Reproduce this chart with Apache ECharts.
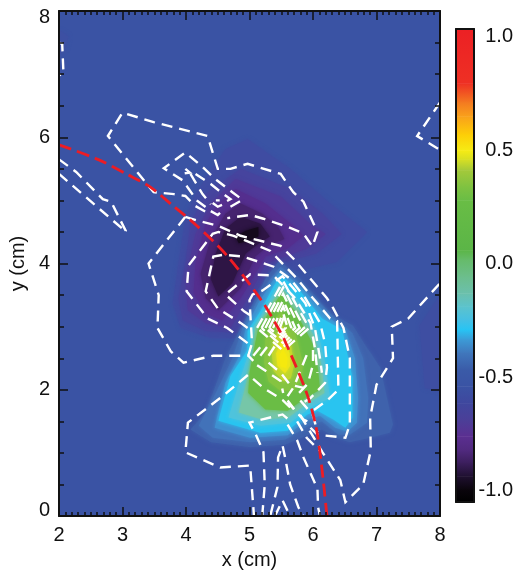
<!DOCTYPE html>
<html><head><meta charset="utf-8">
<style>html,body{margin:0;padding:0;background:#fff}#c{width:516px;height:575px}</style>
<script src="https://cdn.jsdelivr.net/npm/echarts@6/dist/echarts.min.js"></script>
</head><body><div id="c"></div>
<script>
// --- filled contour regions, vertices in cm ---
const field=[[2,0],[2,8],[8,8],[8,0]];
const edgeTopLeft=[[2,7.7],[2.15,7.6],[2.1,7.4],[2,7.3]];
const edgeRight=[[8,3.5],[7.68,3.02],[7.76,2.03],[8,1.98]];
const neg1=[[4.97,5.97],[5.64,5.5],[6.27,4.95],[6.85,4.5],[6.38,4.03],[5.8,3.89],[5.41,3.92],[5.17,3.45],[4.94,2.82],[4.39,2.82],[3.92,2.98],[3.79,3.37],[3.88,4],[3.99,4.71],[4.15,5.1],[4.62,5.81]];
const neg2=[[4.86,5.5],[5.64,5.18],[6.15,4.79],[6.45,4.47],[6.05,4.16],[5.64,4.05],[5.36,3.98],[5.09,3.53],[4.86,2.9],[4.31,2.93],[3.95,3.1],[3.88,3.45],[3.99,4],[4.07,4.63],[4.31,5.1]];
const neg3=[[4.78,5.34],[5.49,5.06],[5.95,4.63],[6.2,4.47],[5.9,4.24],[5.56,4.11],[5.25,4],[5.01,3.53],[4.7,2.98],[4.31,3.06],[4.03,3.26],[3.99,3.76],[4.15,4.47],[4.39,4.95]];
const neg4=[[4.78,5.18],[5.25,4.95],[5.65,4.63],[5.85,4.44],[5.6,4.24],[5.25,4.11],[5.09,3.84],[4.86,3.45],[4.57,3.1],[4.31,3.21],[4.12,3.53],[4.15,4],[4.31,4.63],[4.51,4.95]];
const neg5=[[4.86,4.95],[5.2,4.79],[5.45,4.58],[5.55,4.39],[5.3,4.28],[5.09,4.11],[4.86,3.61],[4.51,3.26],[4.31,3.45],[4.23,3.84],[4.39,4.39],[4.62,4.79]];
const neg6=[[4.86,4.74],[5.17,4.63],[5.32,4.43],[5.15,4.32],[4.94,4.16],[4.73,3.69],[4.51,3.48],[4.39,3.76],[4.47,4.16],[4.62,4.55]];
const neg7=[[4.94,4.52],[5.14,4.58],[5.14,4.43],[4.98,4.36],[4.83,4.32],[4.78,4.43]];
const pos1=[[5.47,4.05],[5.8,3.76],[6.27,3.21],[6.63,3.02],[6.82,2.71],[6.93,2.55],[7.06,2.35],[7.26,1.45],[7.21,1.32],[6.9,1.24],[6.58,1.17],[6.35,1.24],[6.14,1.37],[5.93,1.29],[5.56,1.13],[5.01,1.09],[4.39,1.17],[4.07,1.37],[4.31,1.64],[4.62,2.5],[4.94,3.13],[5.25,3.76]];
const pos2=[[5.49,3.95],[5.88,3.61],[6.35,3.13],[6.62,2.9],[6.79,2.5],[6.87,1.87],[6.85,1.48],[6.58,1.29],[6.4,1.29],[6.14,1.5],[5.93,1.43],[5.56,1.21],[5.01,1.17],[4.42,1.24],[4.2,1.43],[4.43,1.87],[4.73,2.5],[4.89,2.98],[5.14,3.45],[5.33,3.76]];
const pos3=[[5.49,3.89],[5.83,3.61],[6.27,3.13],[6.51,2.95],[6.66,2.5],[6.71,1.87],[6.69,1.48],[6.54,1.34],[6.35,1.4],[6.11,1.59],[5.91,1.53],[5.6,1.28],[5.01,1.24],[4.45,1.4],[4.62,2.11],[4.86,2.58],[4.94,2.98],[5.14,3.37],[5.36,3.72]];
const pos4=[[5.49,3.81],[5.8,3.56],[6.14,3.13],[6.46,2.95],[6.62,2.19],[6.62,1.56],[6.51,1.4],[6.32,1.53],[6.07,1.67],[5.91,1.61],[5.6,1.35],[5.17,1.32],[4.51,1.51],[4.7,2.22],[4.97,2.63],[4.97,2.93],[5.17,3.24],[5.38,3.64]];
const pos5=[[5.49,3.72],[5.8,3.37],[6.08,2.9],[6.19,2.43],[6.27,1.87],[5.96,1.72],[5.64,1.48],[5.17,1.43],[4.67,1.56],[4.86,2.19],[5.01,2.66],[5.05,2.98],[5.2,3.21],[5.39,3.56]];
const pos6=[[5.49,3.64],[5.77,3.29],[6.03,2.82],[6.14,2.35],[6.18,1.95],[5.93,1.8],[5.61,1.56],[5.2,1.53],[4.83,1.64],[4.95,2.11],[5.05,2.58],[5.09,2.98],[5.25,3.21],[5.41,3.48]];
const pos7=[[5.5,3.53],[5.74,3.21],[5.99,2.74],[6.08,2.32],[6.11,2],[5.88,1.87],[5.6,1.67],[5.25,1.69],[4.98,1.95],[5,2.27],[5.09,2.74],[5.14,2.98],[5.3,3.21]];
const pos8=[[5.5,3.25],[5.72,2.9],[5.84,2.43],[5.82,2.15],[5.7,2],[5.49,1.98],[5.3,2.13],[5.23,2.43],[5.25,2.82],[5.35,3.04]];
const pos9=[[5.52,3.02],[5.65,2.74],[5.7,2.38],[5.65,2.18],[5.53,2.14],[5.38,2.3],[5.35,2.58],[5.38,2.8]];
const pos10=[[5.53,2.82],[5.63,2.58],[5.64,2.38],[5.56,2.26],[5.44,2.38],[5.42,2.58]];
const pos11=[[5.53,2.66],[5.6,2.5],[5.58,2.34],[5.49,2.37],[5.47,2.54]];
const fillRegions=[field,edgeTopLeft,edgeRight,neg1,neg2,neg3,neg4,neg5,neg6,neg7,pos1,pos2,pos3,pos4,pos5,pos6,pos7,pos8,pos9,pos10,pos11];
const fillColors=['#3A53A4','#3D50A3','#3E4EA2','#3F4CA2','#46449E','#4F3A98','#542E8E','#46236F','#2E1545','#150A1C','#3F62AC','#4272B9','#4090D0','#29C4F0','#4FC3DC','#76C6A8','#6ABD45','#85C441','#BDD52F','#EAE41C','#F5E90E'];

// --- colour bar ---
const barEdges=[1.035,0.796,0.71,0.65,0.57,0.5,0.46,0.413,0.34,0.28,0.06,0.018,-0.056,-0.13,-0.188,-0.247,-0.29,-0.335,-0.393,-0.467,-0.54,-0.614,-0.687,-0.76,-0.82,-0.878,-0.936,-0.995,-1.05];
const barColors=['#EC2024','#EE3024','#F47B20','#F9A11B','#FDCE07','#F6EB14','#D7DF23','#A4C93A','#7FC241','#69BD45','#5BB547','#66BB6A','#6CBE8C','#6BC0AC','#5CC3CC','#45BFE4','#27C4F4','#3C9AD6','#4077BC','#3A5BA8','#3A53A4','#3F479E','#4B3F98','#5B2F91','#512A7F','#3B1E5C','#1F1030','#0A050C','#000000'];
const barTicks=[-1,-0.5,0,0.5,1];

// --- white dashed contour lines, vertices in cm ---
const cA=[[2,7.5],[2.05,7.48],[2.07,7.01],[2,6.98]];
const cL1=[[2,5.65],[2.27,5.45],[2.69,5.02],[2.82,4.98],[3.05,4.52],[3,4.43]];
const cL2=[[2,5.42],[3,4.55],[3.05,4.52]];
const cB=[[4.07,4.99],[3.99,5.07],[3.81,5.1],[3.49,5.13],[2.77,6.02],[3,6.39],[3.49,6.24],[4.34,6.02],[4.5,5.5],[4.7,5.5],[4.97,5.58],[5.49,5.42],[5.69,5.13],[5.85,4.98],[6.07,4.5],[5.99,4.27],[5.88,4.43],[5.8,4.5],[5.6,4.58],[5.22,4.71],[5.01,4.77],[4.65,4.72]];
const cD=[[4.7,4.9],[4.89,5.01],[4.73,5.13],[4.46,5.34],[4.26,5.53],[3.99,5.76],[3.65,5.51],[3.96,5.31],[4.03,5.2],[4.17,5],[4.34,4.87]];
const cD2=[[3.99,5.5],[4.06,5.44],[3.97,5.43],[3.99,5.5]];
const cD3=[[4.15,5.42],[4.39,5.26],[4.55,5.13],[4.7,5.02],[4.55,4.94]];
const cD4=[[4.07,5.42],[4.26,5.1],[4.39,4.94]];
const cD5=[[4.15,4.91],[4.31,4.82]];
const cSpot=[[4.47,5],[4.5,5.03],[4.53,5],[4.5,4.97],[4.47,5]];
const cChev1=[[4.42,4.96],[4.5,4.9],[4.59,4.94]];
const cChev2=[[4.39,4.83],[4.5,4.77],[4.61,4.87]];
const cE=[[3.99,4.74],[3.41,4],[3.57,3.5],[3.55,2.98],[3.76,2.61],[3.96,2.43],[4.43,2.54],[4.98,2.54],[5.06,2.46]];
const cF=[[3.99,4.74],[4.18,4.68],[4.5,4.6],[4.86,4.44],[5.49,4.28],[5.69,4.08],[5.96,3.76],[6.22,3.45],[6.32,3.29],[6.48,2.98],[6.58,2.5],[6.58,1.45],[6.51,1.24],[6.07,1.29],[5.96,1.4],[5.75,1.64],[5.6,1.8]];
const cG=[[4.97,2.74],[4.65,2.98],[4.34,3.13],[4.01,3.56],[4.04,3.97],[4.42,4.47],[4.51,4.5],[4.75,4.44],[4.97,4.35],[5.33,4.2],[5.49,4.03],[5.75,3.76],[6,3.45],[6.27,3.13],[6.38,3.09],[6.4,2],[6.22,1.83],[6,1.67]];
const cH=[[4.97,2.98],[4.86,3.06],[4.5,3.29],[4.31,3.56],[4.43,4.11],[4.59,4.14],[4.9,4.11],[5.38,3.95],[5.64,3.76],[5.88,3.45],[6.11,3.06],[6.19,2.74],[6.22,2.35],[6.19,2.11],[5.96,1.87],[5.85,1.8]];
const cI=[[5.01,3.18],[4.92,3.24],[4.62,3.51],[5.01,3.83],[5.38,3.81],[5.72,3.45],[5.96,3.06],[6.03,2.66],[6.07,2.27]];
const cJ=[[4.98,2.54],[5.04,2.74],[5,3.42],[5.05,3.51],[5.2,3.57],[5.52,3.8],[5.69,3.61],[5.88,3.37],[6.03,2.98],[6.11,2.5],[6.14,2.27]];
const cK=[[5.64,1.72],[5.52,1.84],[5.22,2.03],[4.98,2.24],[4.59,1.91],[4.03,1.48],[3.99,1.01],[4.54,0.77],[5.01,0.8],[5.06,0.14],[5.07,0]];
const cM=[[5.2,0],[5.24,0.5],[5.22,1.01],[5.17,1.13],[5.09,1.31],[5,1.48],[5.52,1.61],[5.65,1.5]];
const cN=[[5.33,0.02],[5.44,0.46],[5.45,0.93],[5.52,1.12],[5.56,0.93],[5.64,0.5],[5.77,0.14],[5.85,0]];
const cO=[[5.4,0],[5.52,0.25],[5.64,0]];
const cP=[[5.6,1.45],[5.75,1.2],[5.85,0.93],[6.07,0.43],[6.08,0.14],[6.11,0]];
const cQ=[[5.8,1.6],[6.15,1.01],[6.43,0.57],[6.51,0.22],[6.79,0.5],[6.91,1.04],[6.9,1.56],[7,2.08],[7.26,2.5],[7.24,3],[7.5,3.13],[8,3.69]];
const cR=[[5.75,1.5],[5.9,1.24],[6.1,1.04]];
const cTop=[[8,6.55],[7.64,6.02],[8,5.8]];
const ring1=[[5.12,2.98],[5.53,3.72],[5.94,2.98],[5.53,2.62],[5.12,2.98]];
const ring2=[[5.19,2.98],[5.53,3.62],[5.86,2.98],[5.53,2.68],[5.19,2.98]];
const ring3=[[5.25,2.98],[5.53,3.52],[5.79,2.98],[5.53,2.74],[5.25,2.98]];
const ring4=[[5.31,2.98],[5.53,3.42],[5.72,2.98],[5.53,2.8],[5.31,2.98]];
const ring5=[[5.37,2.98],[5.53,3.32],[5.66,2.98],[5.53,2.85],[5.37,2.98]];
const ring6=[[5.43,2.98],[5.53,3.22],[5.6,2.98],[5.53,2.9],[5.43,2.98]];
const ring7=[[5.48,2.98],[5.53,3.12],[5.57,2.98],[5.53,2.94],[5.48,2.98]];
const q1=[[5.12,2.39],[5.3,2.27],[5.49,2.14],[5.53,1.95]];
const q2=[[5.3,2.43],[5.49,2.27],[5.64,2.08],[5.85,2.03]];
const q3=[[5.06,2.54],[5.22,2.74]];
const q4=[[5.17,2.54],[5.3,2.71]];
const q5=[[5.3,2.54],[5.41,2.71]];
const s1=[[5.9,2.55],[5.8,2.3],[5.7,2.05],[5.6,1.9]];
const s2=[[6,2.63],[6,2.4],[5.92,2.1],[5.78,1.95]];
const t1=[[5.6,1.83],[5.72,1.67],[5.85,1.53],[5.96,1.48]];
const t2=[[5.8,1.83],[6,1.6],[6.07,1.33]];
const whiteLines=[cA,cL1,cL2,cB,cD,cD2,cD3,cD4,cD5,cSpot,cChev1,cChev2,cE,cF,cG,cH,cI,cJ,cK,cM,cN,cO,cP,cQ,cR,cTop,ring1,ring2,ring3,ring4,ring5,ring6,ring7,q1,q2,q3,q4,q5,s1,s2,t1,t2];

// --- red curve ---
const redCurve=[[2,5.88],[2.61,5.65],[3.08,5.41],[3.44,5.21],[3.8,4.91],[4.17,4.6],[4.65,4.12],[5.2,3.4],[5.45,2.98],[5.56,2.77],[5.91,1.92],[6.07,1.29],[6.22,0]];

const FONT='"Liberation Sans",Arial,sans-serif';
const INK='#111';
const chart=echarts.init(document.getElementById('c'),null,{renderer:'canvas'});
const lab={fontFamily:FONT,fontSize:20,color:'#111'};
function xAx(pos,gi,show){return {type:'value',gridIndex:gi,position:pos,min:2,max:8,interval:1,z:10,
  axisLine:{show:true,onZero:false,lineStyle:{color:INK,width:2}},
  axisTick:{show:true,inside:true,length:9,lineStyle:{color:INK,width:1.5}},
  minorTick:{show:true,splitNumber:10,length:4,lineStyle:{color:INK,width:1.5}},
  splitLine:{show:false},
  axisLabel:Object.assign({show:show,margin:9,formatter:v=>String(v)},lab),
  name:show?'x (cm)':'',nameLocation:'middle',nameGap:30,nameTextStyle:lab};}
function yAx(pos,gi,show){return {type:'value',gridIndex:gi,position:pos,min:0,max:8,interval:2,z:10,
  axisLine:{show:true,onZero:false,lineStyle:{color:INK,width:2}},
  axisTick:{show:true,inside:true,length:9,lineStyle:{color:INK,width:1.5}},
  minorTick:{show:true,splitNumber:4,length:5,lineStyle:{color:INK,width:1.5}},
  splitLine:{show:false},
  axisLabel:Object.assign({show:show,margin:9,lineHeight:12,formatter:v=>String(v),verticalAlignMinLabel:'bottom',verticalAlignMaxLabel:'top'},lab),
  name:show?'y (cm)':'',nameLocation:'middle',nameGap:31,nameTextStyle:lab};}
function barBox(pos){return {type:'value',gridIndex:1,position:pos,min:0,max:1,z:10,
  axisLine:{show:true,onZero:false,lineStyle:{color:INK,width:2}},axisTick:{show:false},axisLabel:{show:false},splitLine:{show:false}};}

const series=[
 {type:'custom',name:'field',xAxisIndex:0,yAxisIndex:0,silent:true,animation:false,clip:true,z:1,
  data:fillRegions.map((_,i)=>[i]),
  renderItem:(p,api)=>{const i=api.value(0);
    return {type:'polygon',shape:{points:fillRegions[i].map(q=>api.coord(q))},style:{fill:fillColors[i],shadowBlur:i?4:0,shadowColor:fillColors[i]}};}},
 ...whiteLines.map(l=>({type:'line',xAxisIndex:0,yAxisIndex:0,data:l,showSymbol:false,silent:true,animation:false,z:3,clip:true,
   lineStyle:{color:'#fff',width:2.4,type:[11,7],cap:'butt',join:'miter'}})),
 {type:'line',name:'curve',xAxisIndex:0,yAxisIndex:0,data:redCurve,smooth:0.3,showSymbol:false,silent:true,animation:false,z:4,clip:true,
  lineStyle:{color:'#ED1C24',width:2.8,type:[13,6]}},
 {type:'custom',name:'bar',xAxisIndex:2,yAxisIndex:2,silent:true,animation:false,z:1,
  data:barEdges.slice(1).map((_,i)=>[i]),
  renderItem:(p,api)=>{const i=api.value(0);
    const a=api.coord([0,barEdges[i]]),b=api.coord([1,barEdges[i+1]]);
    return {type:'rect',shape:{x:a[0],y:a[1],width:b[0]-a[0],height:b[1]-a[1]+0.5},
      style:{fill:new echarts.graphic.LinearGradient(0,0,0,1,[{offset:0,color:barColors[i]},{offset:1,color:barColors[i+1]}])}};}}
];

chart.setOption({
 animation:false,backgroundColor:'#fff',
 grid:[{left:58,right:76,top:11,bottom:56,containLabel:false},{left:456,right:42,top:29,bottom:73,containLabel:false}],
 xAxis:[xAx('bottom',0,true),xAx('top',0,false),barBox('bottom'),barBox('top')],
 yAxis:[yAx('left',0,true),yAx('right',0,false),
  {type:'value',gridIndex:1,position:'right',min:-1.05,max:1.035,z:10,
   axisLine:{show:true,onZero:false,lineStyle:{color:INK,width:2}},axisTick:{show:false},splitLine:{show:false},
   axisLabel:Object.assign({show:true,customValues:barTicks,align:'right',margin:39,formatter:v=>v.toFixed(1)},lab)},
  {type:'value',gridIndex:1,position:'left',min:-1.05,max:1.035,z:10,
   axisLine:{show:true,onZero:false,lineStyle:{color:INK,width:2}},axisTick:{show:false},axisLabel:{show:false},splitLine:{show:false}}],
 series:series
});
</script></body></html>
